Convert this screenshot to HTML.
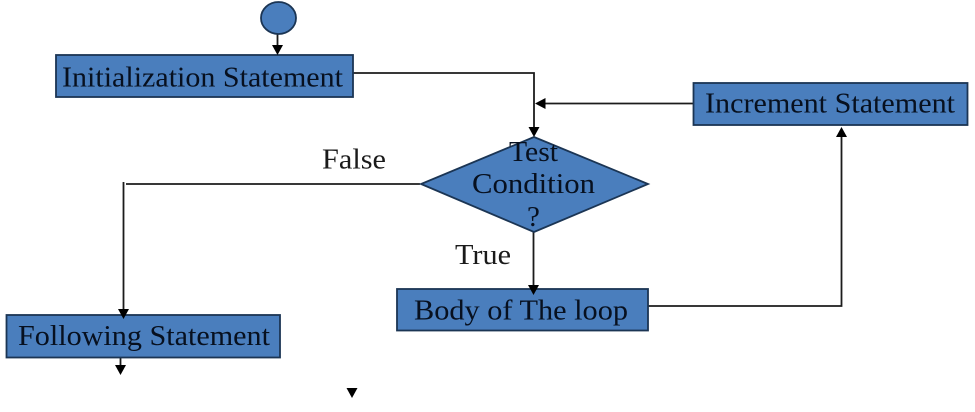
<!DOCTYPE html>
<html>
<head>
<meta charset="utf-8">
<style>
html,body{margin:0;padding:0;background:#fff;width:975px;height:412px;overflow:hidden}
svg{display:block;filter:blur(0.35px)}
text{font-family:"Liberation Serif",serif;fill:#07101f;font-size:29px}
.b{fill:#4a7ebd;stroke:#1b3554;stroke-width:1.8}
.l{fill:none;stroke:#1c1c1c;stroke-width:1.8}
.a{fill:#000}
</style>
</head>
<body>
<svg width="975" height="412" viewBox="0 0 975 412" xmlns="http://www.w3.org/2000/svg">
<!-- connectors -->
<path class="l" d="M277.500 33V48"/>
<path class="l" d="M353 73H534V130"/>
<path class="l" d="M693 103.500H545"/>
<path class="l" d="M420 184H126"/>
<path class="l" d="M123.500 182V309"/>
<path class="l" d="M533.500 232V285"/>
<path class="l" d="M648 306H841.500V136"/>
<path class="l" d="M120.500 355V365"/>
<!-- start -->
<ellipse class="b" cx="278.500" cy="18" rx="17.500" ry="16"/>
<!-- boxes -->
<rect class="b" x="56" y="55" width="297" height="42"/>
<rect class="b" x="693.500" y="83" width="274" height="42"/>
<rect class="b" x="397" y="289" width="251" height="41.500"/>
<rect class="b" x="6.500" y="315" width="273.500" height="42.500"/>
<polygon class="b" points="534,137 648,184 534,232 421,184"/>
<!-- arrowheads -->
<polygon class="a" points="272,45 283,45 277.500,55"/>
<polygon class="a" points="528.500,127 539.500,127 534,137"/>
<polygon class="a" points="535,103.500 545.500,98 545.500,109"/>
<polygon class="a" points="118,309 129,309 123.500,319"/>
<polygon class="a" points="528,285 539,285 533.500,295"/>
<polygon class="a" points="836,137 847,137 841.500,127"/>
<polygon class="a" points="115,365 126,365 120.500,375"/>
<polygon class="a" points="346.500,388 357.500,388 352,398"/>
<!-- labels -->
<text x="62" y="86.500" textLength="281" lengthAdjust="spacingAndGlyphs">Initialization Statement</text>
<text x="705" y="112.500" textLength="250" lengthAdjust="spacingAndGlyphs">Increment Statement</text>
<text x="414" y="319.500" textLength="214" lengthAdjust="spacingAndGlyphs">Body of The loop</text>
<text x="18" y="345" textLength="252" lengthAdjust="spacingAndGlyphs">Following Statement</text>
<text x="509" y="161" textLength="49" lengthAdjust="spacingAndGlyphs">Test</text>
<text x="472" y="193" textLength="123" lengthAdjust="spacingAndGlyphs">Condition</text>
<text x="527" y="226">?</text>
<text x="322" y="168.500" textLength="64" lengthAdjust="spacingAndGlyphs" style="fill:#1a1a1a">False</text>
<text x="455" y="264" textLength="56" lengthAdjust="spacingAndGlyphs" style="fill:#1a1a1a">True</text>
</svg>
</body>
</html>
